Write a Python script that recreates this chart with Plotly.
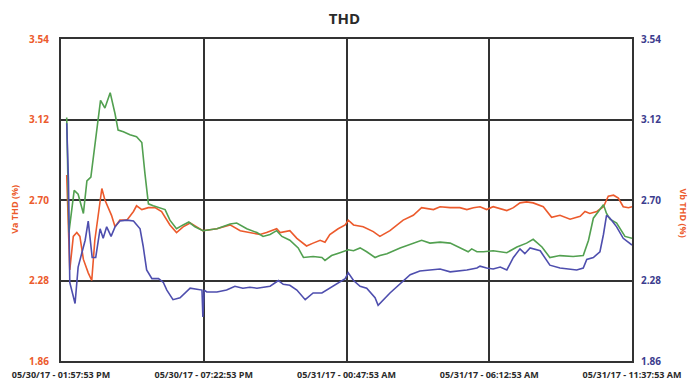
import pandas as pd
import plotly.graph_objects as go

# Start of the recording window
start = pd.Timestamp("2017-05-30 13:57:53")

# Minutes after start / THD values (%) for each trace
red_min = [13, 17, 20, 28, 36, 43, 51, 62, 70, 77, 85, 93, 100, 108, 115, 123, 134, 150, 165, 172,
           184, 199, 214, 229, 232, 248, 263, 278, 294, 323, 355, 385, 408, 430, 453, 468, 491, 499,
           521, 537, 559, 574, 590, 601, 612, 631, 647, 654, 666, 688, 711, 726, 749, 779, 802, 821,
           848, 863, 886, 908, 924, 939, 954, 969, 984, 1015, 1030, 1045, 1060, 1075, 1098, 1117,
           1136, 1159, 1182, 1193, 1204, 1220, 1235, 1246, 1258, 1269, 1280, 1292, 1300]
red_val = [2.83, 2.595, 2.335, 2.51, 2.53, 2.51, 2.39, 2.32, 2.28, 2.49, 2.63, 2.76, 2.70, 2.66, 2.62,
           2.56, 2.595, 2.595, 2.64, 2.67, 2.65, 2.66, 2.66, 2.64, 2.63, 2.57, 2.53, 2.56, 2.58, 2.54,
           2.55, 2.57, 2.54, 2.53, 2.52, 2.53, 2.55, 2.53, 2.54, 2.50, 2.46, 2.475, 2.49, 2.48, 2.52,
           2.55, 2.57, 2.595, 2.57, 2.56, 2.535, 2.51, 2.54, 2.595, 2.62, 2.66, 2.65, 2.665, 2.66,
           2.66, 2.65, 2.66, 2.665, 2.65, 2.665, 2.645, 2.66, 2.685, 2.69, 2.685, 2.665, 2.61, 2.62,
           2.60, 2.615, 2.64, 2.63, 2.64, 2.665, 2.72, 2.725, 2.71, 2.665, 2.66, 2.665]

green_min = [13, 18, 30, 39, 51, 59, 68, 81, 90, 100, 112, 123, 130, 142, 157, 172, 184, 191, 199, 210,
             225, 237, 248, 263, 278, 291, 305, 323, 355, 385, 400, 423, 446, 460, 476, 491, 503, 521,
             540, 552, 574, 594, 601, 616, 635, 654, 666, 681, 696, 715, 726, 742, 772, 802, 821, 840,
             863, 886, 908, 927, 935, 947, 962, 984, 1015, 1038, 1060, 1075, 1095, 1113, 1136, 1166,
             1189, 1201, 1212, 1223, 1235, 1242, 1250, 1265, 1284, 1300]
green_val = [3.13, 2.53, 2.75, 2.73, 2.63, 2.80, 2.82, 3.05, 3.22, 3.18, 3.26, 3.15, 3.065, 3.056, 3.04,
             3.03, 3.00, 2.84, 2.68, 2.67, 2.66, 2.65, 2.595, 2.55, 2.57, 2.585, 2.56, 2.54, 2.55, 2.575,
             2.58, 2.55, 2.53, 2.51, 2.52, 2.54, 2.51, 2.49, 2.45, 2.40, 2.405, 2.40, 2.385, 2.41, 2.425,
             2.44, 2.435, 2.45, 2.43, 2.40, 2.41, 2.42, 2.45, 2.475, 2.49, 2.475, 2.48, 2.475, 2.45, 2.43,
             2.445, 2.43, 2.43, 2.435, 2.425, 2.455, 2.475, 2.495, 2.455, 2.40, 2.41, 2.405, 2.41, 2.49,
             2.605, 2.64, 2.675, 2.63, 2.60, 2.58, 2.51, 2.50]

blue_min = [13, 17, 20, 26, 32, 39, 47, 55, 62, 71, 79, 89, 96, 104, 114, 123, 134, 150, 165, 180, 187,
            195, 207, 222, 233, 241, 255, 271, 294, 321, 323, 326, 332, 355, 377, 396, 414, 430, 446,
            460, 476, 495, 506, 521, 537, 556, 574, 594, 612, 631, 647, 654, 666, 681, 696, 715, 722,
            749, 772, 795, 817, 848, 863, 886, 924, 947, 954, 969, 984, 1000, 1015, 1030, 1045, 1056,
            1068, 1091, 1113, 1136, 1174, 1189, 1197, 1212, 1227, 1235, 1242, 1250, 1265, 1280, 1300]
blue_val = [3.10, 2.80, 2.27, 2.21, 2.16, 2.35, 2.42, 2.49, 2.59, 2.40, 2.40, 2.55, 2.50, 2.56, 2.51,
            2.56, 2.59, 2.595, 2.59, 2.55, 2.46, 2.335, 2.29, 2.29, 2.27, 2.23, 2.18, 2.19, 2.24, 2.23,
            2.09, 2.23, 2.22, 2.22, 2.23, 2.25, 2.24, 2.245, 2.24, 2.245, 2.25, 2.28, 2.26, 2.255, 2.23,
            2.18, 2.215, 2.215, 2.24, 2.27, 2.29, 2.32, 2.28, 2.25, 2.24, 2.19, 2.15, 2.215, 2.265, 2.31,
            2.33, 2.335, 2.34, 2.325, 2.335, 2.345, 2.355, 2.345, 2.34, 2.35, 2.335, 2.40, 2.445, 2.42,
            2.45, 2.435, 2.36, 2.345, 2.335, 2.345, 2.39, 2.40, 2.43, 2.52, 2.62, 2.605, 2.56, 2.50, 2.465]

# Axis ticks
y_ticks = [1.86, 2.28, 2.70, 3.12, 3.54]
x_tick_min = [0, 325, 650, 975, 1300]
x_tick_text = ["05/30/17 - 01:57:53 PM", "05/30/17 - 07:22:53 PM", "05/31/17 - 00:47:53 AM",
               "05/31/17 - 06:12:53 AM", "05/31/17 - 11:37:53 AM"]


def to_time(mins):
    return [start + pd.Timedelta(minutes=m) for m in mins]


RED = "#EC5A2C"
GREEN = "#52A050"
BLUE = "#4E4EAE"
GRID = "#333333"
FONT = "Open Sans, Lato, sans-serif"

fig = go.Figure()
fig.add_trace(go.Scatter(x=to_time(red_min), y=red_val, mode="lines",
                         line=dict(color=RED, width=1.6), name="Va"))
fig.add_trace(go.Scatter(x=to_time(green_min), y=green_val, mode="lines",
                         line=dict(color=GREEN, width=1.6), name="Vc"))
fig.add_trace(go.Scatter(x=to_time(blue_min), y=blue_val, mode="lines",
                         line=dict(color=BLUE, width=1.6), name="Vb", yaxis="y2"))

fig.update_layout(
    width=689, height=381,
    margin=dict(l=61, r=57, t=39, b=20),
    paper_bgcolor="white", plot_bgcolor="white",
    showlegend=False,
    title=dict(text="<b>THD</b>", x=0.5, xanchor="center", y=0.95, yanchor="middle",
               font=dict(family=FONT, size=15, color="#2a2a2a")),
    xaxis=dict(
        type="date", automargin=False,
        range=[start, start + pd.Timedelta(minutes=1300)],
        tickvals=to_time(x_tick_min), ticktext=[f"<b>{t}</b>" for t in x_tick_text],
        tickangle=0,
        showgrid=True, gridcolor=GRID, gridwidth=2,
        showline=True, linecolor=GRID, linewidth=2, mirror=True,
        ticks="outside", ticklen=4, tickcolor="rgba(0,0,0,0)",
        tickfont=dict(family=FONT, size=9, color="#2a2a2a"),
        zeroline=False,
    ),
    yaxis=dict(
        range=[1.86, 3.54], automargin=False,
        tickvals=y_ticks, ticktext=[f"<b>{v:.2f}</b>" for v in y_ticks],
        showgrid=True, gridcolor=GRID, gridwidth=2,
        showline=True, linecolor=GRID, linewidth=2, mirror=True,
        ticks="outside", ticklen=8, tickcolor="rgba(0,0,0,0)",
        tickfont=dict(family=FONT, size=10, color=RED),
        zeroline=False,
    ),
    yaxis2=dict(
        range=[1.86, 3.54], overlaying="y", side="right", automargin=False,
        tickvals=y_ticks, ticktext=[f"<b>{v:.2f}</b>" for v in y_ticks],
        showgrid=False, showline=False,
        ticks="outside", ticklen=6, tickcolor="rgba(0,0,0,0)",
        tickfont=dict(family=FONT, size=10, color="#3C3C8E"),
        zeroline=False,
    ),
    annotations=[
        dict(text="<b>Va THD (%)</b>", xref="paper", yref="paper", x=-0.082, y=0.47,
             xanchor="center", yanchor="middle", textangle=-90, showarrow=False,
             font=dict(family=FONT, size=9, color=RED)),
        dict(text="<b>Vb THD (%)</b>", xref="paper", yref="paper", x=1.09, y=0.46,
             xanchor="center", yanchor="middle", textangle=90, showarrow=False,
             font=dict(family=FONT, size=9, color=RED)),
    ],
)

fig.write_html("out.html")
